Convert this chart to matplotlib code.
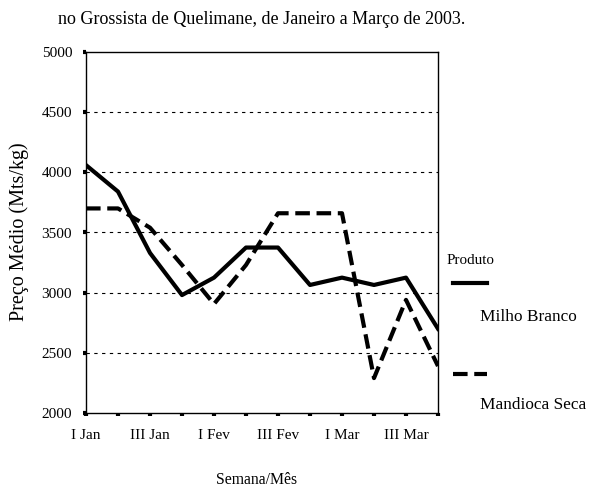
import matplotlib.pyplot as plt
import numpy as np

plt.rcParams['font.family'] = ['Liberation Serif', 'DejaVu Serif']

# weeks Jan-Mar 2003
weeks = ['I Jan', 'II Jan', 'III Jan', 'IV Jan', 'I Fev', 'II Fev',
         'III Fev', 'IV Fev', 'I Mar', 'II Mar', 'III Mar', 'IV Mar']
milho = [4060, 3840, 3330, 2980, 3125, 3375, 3375, 3064, 3125, 3064, 3125, 2700]
mandioca = [3700, 3700, 3540, 3230, 2906, 3230, 3660, 3660, 3660, 2290, 2940, 2390]

dash = (0, (3.5, 1.6))

fig = plt.figure(figsize=(5.89, 4.9), dpi=100)
ax = fig.add_axes([86/589, 1 - 413/490, (438-86)/589, (413-52)/490])

x = np.arange(len(weeks))
ax.plot(x, milho, color='black', linewidth=3.0)
ax.plot(x, mandioca, color='black', linewidth=3.0, linestyle=dash)

ax.set_xlim(0, len(weeks) - 1)
ax.set_ylim(2000, 5000)
ax.set_yticks(np.arange(2000, 5001, 500))
ax.set_xticks(x)
ax.set_xticklabels([w if i % 2 == 0 else '' for i, w in enumerate(weeks)])
ax.tick_params(direction='out', length=2.5, width=3, labelsize=11)
ax.tick_params(axis='x', pad=9)
ax.tick_params(axis='y', pad=7.5)

for v in range(2500, 5000, 500):
    ax.axhline(v, color='black', linewidth=0.8, linestyle=(0, (3, 4)))

for s in ax.spines.values():
    s.set_linewidth(1.0)

fig.text(262/589, 1 - 19/490, 'no Grossista de Quelimane, de Janeiro a Março de 2003.',
         ha='center', va='center', fontsize=13)
fig.text(19/589, 1 - 232/490, 'Preço Médio (Mts/kg)', rotation=90,
         ha='center', va='center', fontsize=14.5)
fig.text(257/589, 1 - 480/490, 'Semana/Mês', ha='center', va='center', fontsize=11.3)

# legend drawn by hand outside the axes
fig.text(447/589, 1 - 260/490, 'Produto', ha='left', va='center', fontsize=10.8)
fig.add_artist(plt.Line2D([453/589, 487/589], [1 - 283/490] * 2, color='black',
                          linewidth=3.0, transform=fig.transFigure))
fig.text(480/589, 1 - 317/490, 'Milho Branco', ha='left', va='center', fontsize=12.4)
fig.add_artist(plt.Line2D([453/589, 487/589], [1 - 374/490] * 2, color='black',
                          linewidth=3.0, linestyle=dash, transform=fig.transFigure))
fig.text(480/589, 1 - 405/490, 'Mandioca Seca', ha='left', va='center', fontsize=12.4)

fig.savefig('out.png', dpi=100)
